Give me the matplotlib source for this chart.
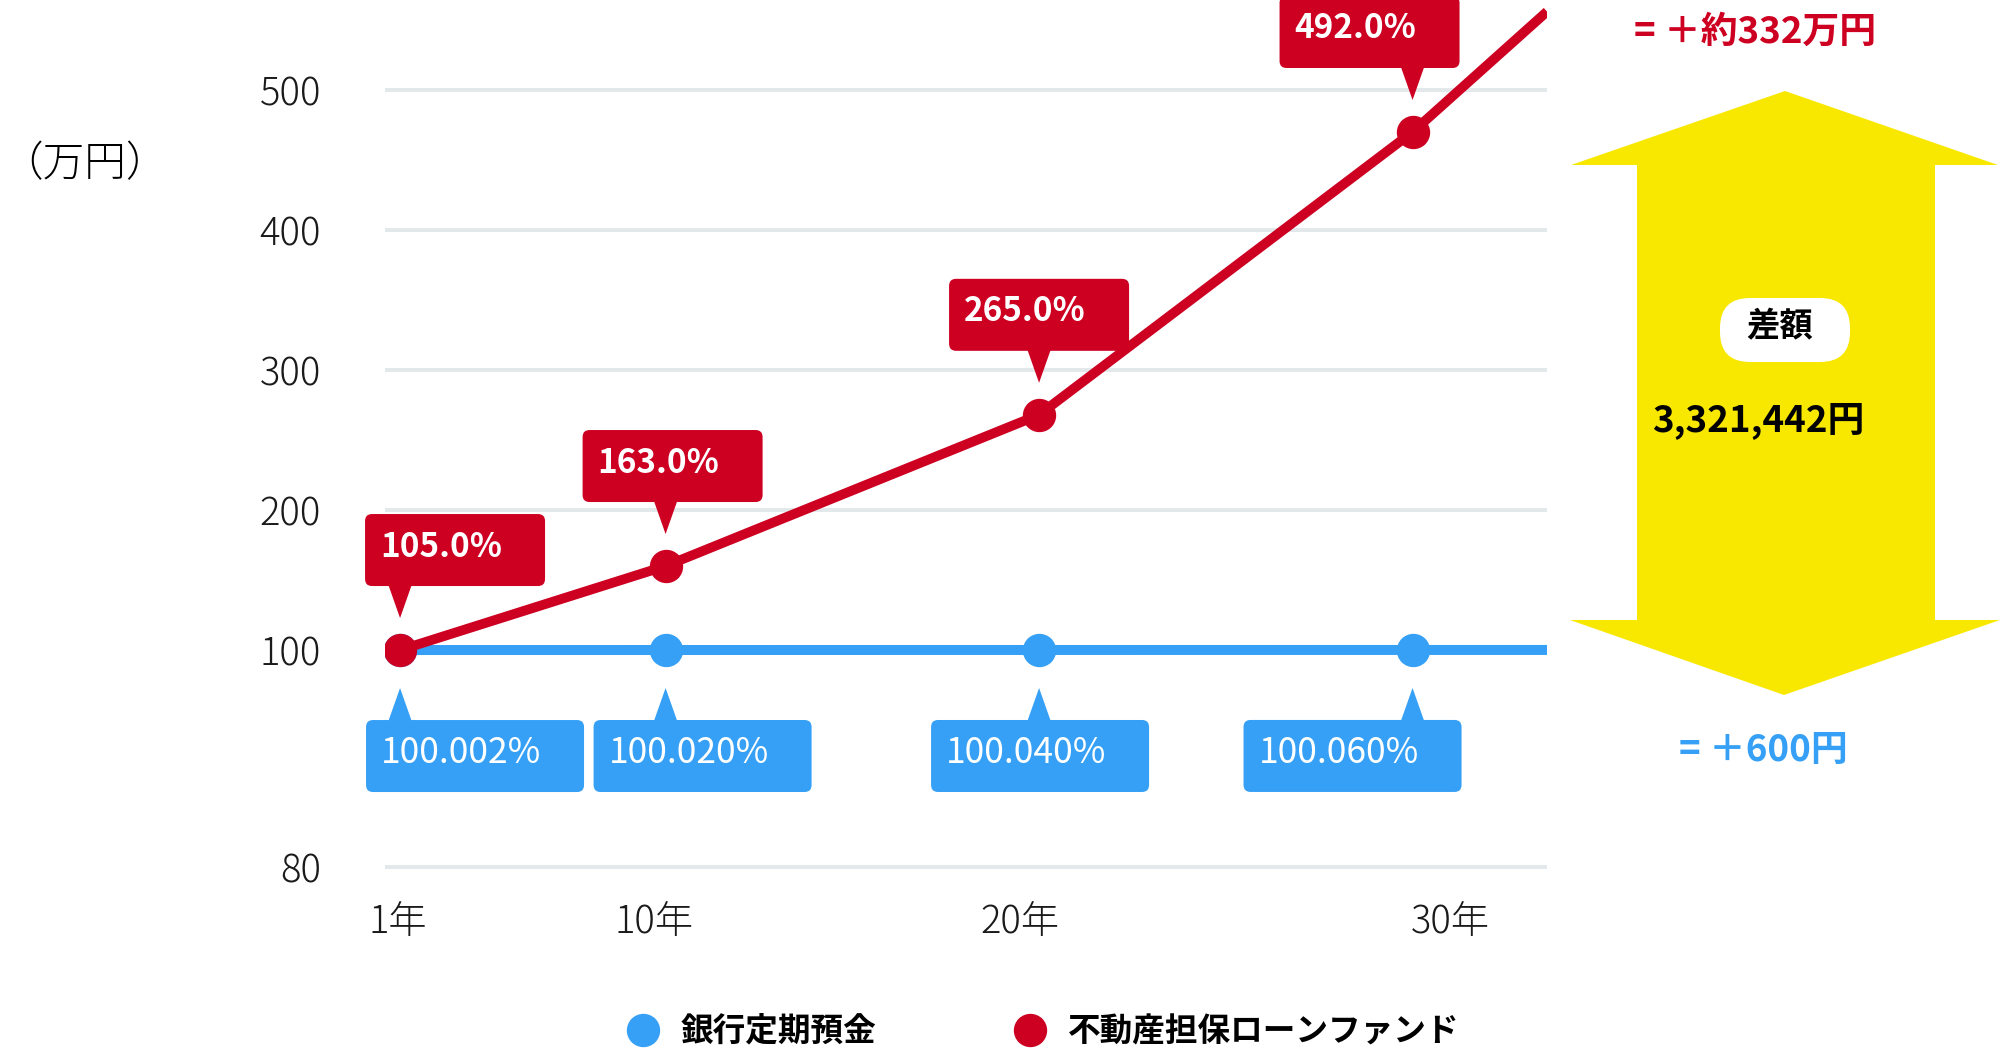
import numpy as np
import matplotlib
matplotlib.use('Agg')
from matplotlib import pyplot as plt
from matplotlib.lines import Line2D
from matplotlib.patches import FancyBboxPatch, Polygon
from matplotlib.transforms import IdentityTransform

plt.rcParams['font.family'] = ['Noto Sans CJK JP', 'DejaVu Sans']

# data
years = [1, 10, 20, 30]
bank_values = [100.002, 100.020, 100.040, 100.060]
fund_values = [100, 160, 268, 470]
bank_labels = ['100.002%', '100.020%', '100.040%', '100.060%']
fund_labels = ['105.0%', '163.0%', '265.0%', '492.0%']
line_end_year = 33.6
bank_end_value = 100.060
fund_end_value = 556
y_ticks = [80, 100, 200, 300, 400, 500]
x_tick_pos = [0.93, 9.6, 19.5, 31.0]
x_tick_labels = ['1年', '10年', '20年', '30年']
series_names = ['銀行定期預金', '不動産担保ローンファンド']
y_unit = '（万円）'
diff_title = '差額'
diff_total = '3,321,442円'
fund_gain = '= ＋約332万円'
bank_gain = '= ＋600円'

BLUE = '#35a0f5'
RED = '#cd0022'
YELLOW = '#f8e800'
GRID = '#e3e9eb'
W, H = 2000, 1051


# squeezed axes like the original: 80-100 gets a bigger gap
def y_fwd(v):
    v = np.asarray(v, dtype=float)
    return np.where(v < 100, (v - 80) / 20 * 1.55, 1.55 + (v - 100) / 100)


def y_inv(u):
    u = np.asarray(u, dtype=float)
    return np.where(u < 1.55, 80 + u / 1.55 * 20, 100 + (u - 1.55) * 100)


def x_fwd(x):
    x = np.asarray(x, dtype=float)
    return np.where(x < 10, 10 - (10 - x) * 0.79, x)


def x_inv(u):
    u = np.asarray(u, dtype=float)
    return np.where(u < 10, 10 - (10 - u) / 0.79, u)


fig = plt.figure(figsize=(W / 100, H / 100), dpi=100)
ax = fig.add_axes([0.1925, 0.1647, 0.581, 0.8296])
ax.set_xscale('function', functions=(x_fwd, x_inv))
ax.set_yscale('function', functions=(y_fwd, y_inv))
ax.set_xlim(0.49, 33.6)
ax.set_ylim(79, 560)

for s in ax.spines.values():
    s.set_visible(False)
ax.set_yticks(y_ticks)
ax.set_yticklabels([str(t) for t in y_ticks])
ax.set_xticks(x_tick_pos)
ax.set_xticklabels(x_tick_labels)
ax.tick_params(length=0, labelsize=27.5, colors='#1a1a1a')
ax.tick_params(axis='y', pad=46)
ax.tick_params(axis='x', pad=17.5)
for lab in ax.get_xticklabels() + ax.get_yticklabels():
    lab.set_fontweight('light')
ax.yaxis.grid(True, color=GRID, lw=2.9)
ax.set_axisbelow(True)

ax.plot(years + [line_end_year], bank_values + [bank_end_value], color=BLUE, lw=7.2,
        solid_capstyle='butt', zorder=3)
ax.plot(years, bank_values, 'o', color=BLUE, ms=23, zorder=3)
ax.plot(years + [line_end_year], fund_values + [fund_end_value], color=RED, lw=7.0,
        solid_capstyle='butt', zorder=4)
ax.plot(years, fund_values, 'o', color=RED, ms=23, zorder=4)

idt = IdentityTransform()


def callout(px, py, dx, text, color, above, w, bold):
    h = 72
    if above:
        y0 = py + 64
        base, tip = y0 + 2, py + 32
    else:
        y0 = py - 70 - h
        base, tip = py - 72, py - 38
    fig.add_artist(FancyBboxPatch((px + dx, y0), w, h, boxstyle='round,pad=0,rounding_size=7',
                                  fc=color, ec='none', transform=idt, zorder=5))
    fig.add_artist(Polygon([(px - 12, base), (px + 12, base), (px, tip)], closed=True,
                           fc=color, ec='none', transform=idt, zorder=5))
    fig.text(px + dx + 15, y0 + h / 2 + 3, text, color='white', fontsize=24 if bold else 25.5,
             fontweight='bold' if bold else 'normal', ha='left', va='center',
             transform=idt, zorder=6)


red_dx = [-35, -83, -90, -133]
blue_dx = [-34, -72, -108, -169]
for i in range(len(years)):
    px, py = ax.transData.transform((years[i], fund_values[i]))
    callout(px, py, red_dx[i], fund_labels[i], RED, True, 180, True)
    px, py = ax.transData.transform((years[i], bank_values[i]))
    callout(px, py, blue_dx[i], bank_labels[i], BLUE, False, 218, False)

# yellow double arrow on the right
arrow = [(1785, 91), (1998, 165), (1935, 165), (1935, 620), (2000, 620), (1784, 695),
         (1570, 620), (1637, 620), (1637, 165), (1571, 165)]
fig.add_artist(Polygon([(x, H - y) for x, y in arrow], closed=True, fc=YELLOW, ec='none',
                       transform=idt, zorder=2))
fig.add_artist(FancyBboxPatch((1720, H - 362), 130, 64, boxstyle='round,pad=0,rounding_size=30',
                              fc='white', ec='none', transform=idt, zorder=3))
fig.text(1780, H - 327, diff_title, fontsize=24, fontweight='bold', ha='center', va='center',
         transform=idt, zorder=4)
fig.text(1758, H - 421, diff_total, fontsize=26.5, fontweight='bold', ha='center', va='center',
         transform=idt, zorder=4)
fig.text(1755, H - 32, fund_gain, fontsize=26.5, fontweight='bold', color=RED, ha='center',
         va='center', transform=idt)
fig.text(1763, H - 751, bank_gain, fontsize=26.5, fontweight='bold', color=BLUE, ha='center',
         va='center', transform=idt)

fig.text(1, H - 164, y_unit, fontsize=30, fontweight='light', ha='left', va='center',
         transform=idt)

handles = [Line2D([], [], marker='o', ls='none', ms=23, color=BLUE),
           Line2D([], [], marker='o', ls='none', ms=23, color=RED)]
fig.legend(handles, series_names, loc='center', bbox_to_anchor=(0.5175, 0.018), ncol=2,
           frameon=False, prop=dict(weight='bold', size=23.5), handletextpad=0.15,
           columnspacing=3.7)

fig.savefig('out.png', dpi=100)
